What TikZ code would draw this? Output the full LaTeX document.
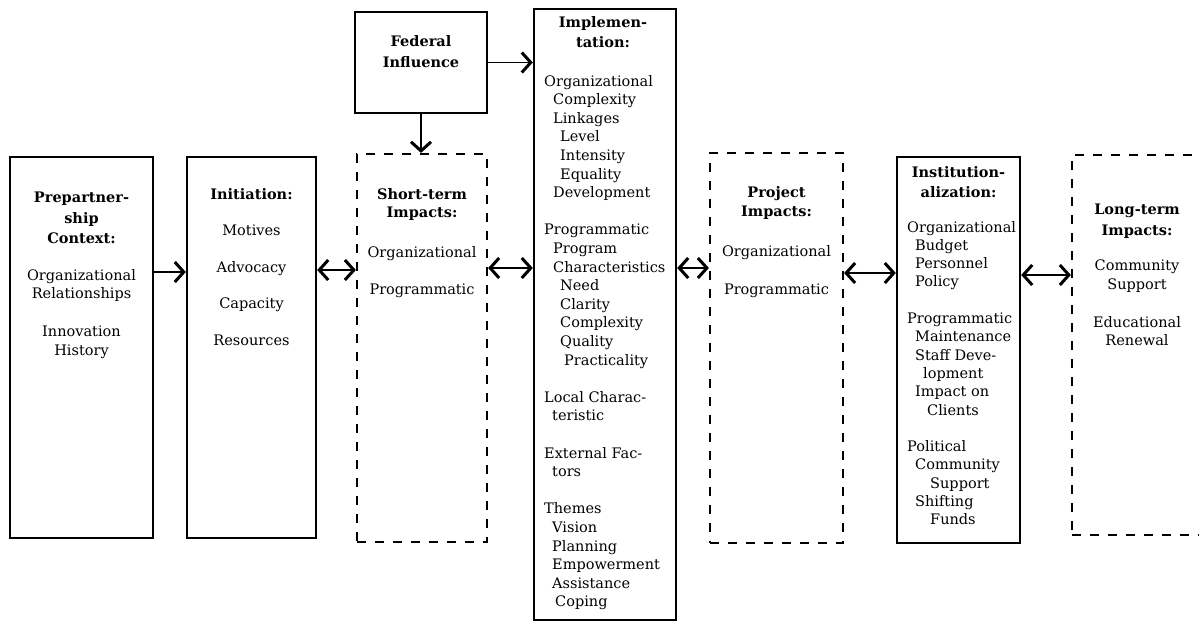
\documentclass[tikz,border=0pt]{standalone}
\usepackage{fontspec}
\setmainfont{DejaVu Serif}
\usetikzlibrary{arrows.meta}
\newcommand\dfont{\fontsize{14.5}{18.6}\selectfont}
\newcommand\ifont{\fontsize{14.5}{18.3}\selectfont}
\begin{document}
\begin{tikzpicture}[x=1pt,y=-1pt,
  box/.style={draw, line width=2.4pt, inner sep=0pt},
  dbox/.style={draw, line width=2.2pt, dash pattern=on 9pt off 9pt},
  txt/.style={inner sep=0pt, font=\dfont, align=center, anchor=base},
  ltxt/.style={inner sep=0pt, font=\dfont, align=left, anchor=base west},
  chev/.tip={Straight Barb[length=9pt,width=20pt,line width=3pt]},
  arr/.style={line width=1.8pt, -chev},
  darr/.style={line width=1.8pt, chev-chev}]
\useasboundingbox (0,0) rectangle (1199,622);
% boxes
\node[box, minimum width=143pt, minimum height=381pt] (pre) at (81.5,347.5) {};
\node[box, minimum width=129pt, minimum height=381pt] (ini) at (251.5,347.5) {};
\node[box, minimum width=132pt, minimum height=101pt] (fed) at (421,62.5) {};
\node[dbox, minimum width=130pt, minimum height=388pt] (st) at (422,348) {};
\node[box, minimum width=142pt, minimum height=611pt] (imp) at (605,314.5) {};
\node[dbox, minimum width=133pt, minimum height=390pt] (pro) at (776.5,348) {};
\node[box, minimum width=123pt, minimum height=386pt] (ins) at (958.5,350) {};
\node[dbox, minimum width=158pt, minimum height=380pt] (lt) at (1151,345) {};
% texts (anchor = baseline of the last line)
\node[txt] (preT) at (81.5,355) {\textbf{Prepartner-}\\[2pt]\textbf{ship}\\[2pt]\textbf{Context:}\\[18pt]Organizational\\Relationships\\[19pt]Innovation\\History};
\node[txt] (iniT) at (251.5,345.5) {\textbf{Initiation:}\\[18pt]Motives\\[18pt]Advocacy\\[18pt]Capacity\\[18pt]Resources};
\node[txt] (stT) at (422,294.8) {\textbf{Short-term}\\\textbf{Impacts:}\\[21pt]Organizational\\[19pt]Programmatic};
\node[txt] (proT) at (776.5,294) {\textbf{Project}\\[1pt]\textbf{Impacts:}\\[20.8pt]Organizational\\[19.4pt]Programmatic};
\node[txt] (fedT) at (421,67) {\textbf{Federal}\\[1.5pt]\textbf{Influence}};
\node[txt] (impH) at (603,47) {\textbf{Implemen-}\\[1.4pt]\textbf{tation:}};
\node[ltxt] (impB) at (544,606.8) {Organizational\\
\hspace*{9pt}Complexity\\
\hspace*{9pt}Linkages\\
\hspace*{16pt}Level\\
\hspace*{16pt}Intensity\\
\hspace*{16pt}Equality\\
\hspace*{9pt}Development\\[18.6pt]
Programmatic\\
\hspace*{9pt}Program\\
\hspace*{9pt}Characteristics\\
\hspace*{16pt}Need\\
\hspace*{16pt}Clarity\\
\hspace*{16pt}Complexity\\
\hspace*{16pt}Quality\\
\hspace*{20pt}Practicality\\[18.6pt]
Local Charac-\\
\hspace*{8pt}teristic\\[18.6pt]
External Fac-\\
\hspace*{8pt}tors\\[18.6pt]
Themes\\
\hspace*{8pt}Vision\\
\hspace*{8pt}Planning\\
\hspace*{8pt}Empowerment\\
\hspace*{8pt}Assistance\\
\hspace*{11pt}Coping};
\node[txt] (insH) at (958.5,197) {\textbf{Institution-}\\[1.4pt]\textbf{alization:}};
\node[ltxt, font=\ifont] (insB) at (907,524.8) {Organizational\\
\hspace*{8pt}Budget\\
\hspace*{8pt}Personnel\\
\hspace*{8pt}Policy\\[18.3pt]
Programmatic\\
\hspace*{8pt}Maintenance\\
\hspace*{8pt}Staff Deve-\\
\hspace*{16pt}lopment\\
\hspace*{8pt}Impact on\\
\hspace*{20pt}Clients\\[18.3pt]
Political\\
\hspace*{8pt}Community\\
\hspace*{23pt}Support\\
\hspace*{8pt}Shifting\\
\hspace*{23pt}Funds};
\node[txt] (ltT) at (1137,345.8) {\textbf{Long-term}\\[3pt]\textbf{Impacts:}\\[16.4pt]Community\\Support\\[19.4pt]Educational\\Renewal};
% arrow rows
\coordinate (ra) at (0,272);
\coordinate (rb) at (0,270);
\coordinate (rc) at (0,268);
\coordinate (re) at (0,273);
\coordinate (rf) at (0,275);
% connectors
\draw[arr] (pre.east |- ra) -- (ini.west |- ra);
\draw[darr] (ini.east |- rb) -- (st.west |- rb);
\draw[darr] (st.east |- rc) -- (imp.west |- rc);
\draw[darr] (imp.east |- rc) -- (pro.west |- rc);
\draw[darr] (pro.east |- re) -- (ins.west |- re);
\draw[darr] (ins.east |- rf) -- (lt.west |- rf);
\draw[arr] (fed.east) -- (fed.east -| imp.west);
\draw[arr] (fed.south) -- (fed.south |- st.north);
\end{tikzpicture}
\end{document}
